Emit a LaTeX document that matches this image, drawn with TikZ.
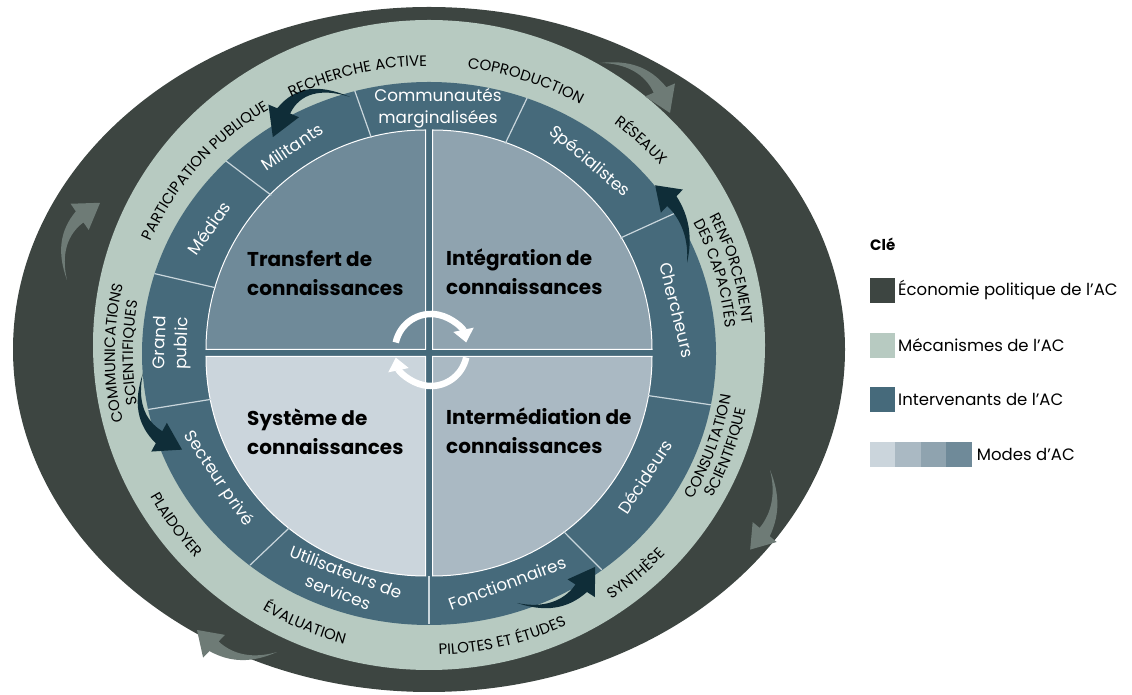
\documentclass[tikz,border=0pt]{standalone}
\usepackage{fontspec}
\setmainfont{Poppins}
\usepackage{tikz}
\usetikzlibrary{arrows.meta, decorations.text, calc, positioning}

\definecolor{ecoDark}{HTML}{3D4541}
\definecolor{mechGreen}{HTML}{B7CAC1}
\definecolor{actorBlue}{HTML}{466A7B}
\definecolor{modeA}{HTML}{CBD5DC}
\definecolor{modeB}{HTML}{AAB9C3}
\definecolor{modeC}{HTML}{8FA3AF}
\definecolor{modeD}{HTML}{6F8A99}
\definecolor{swooshDark}{HTML}{0F2D38}
\definecolor{swooshGray}{HTML}{6E7B76}
\definecolor{dividerLine}{HTML}{C9D6DC}

\tikzset{
  actor/.style={text=white, font=\fontsize{16.8}{22}\selectfont, align=center, inner sep=0pt},
  mode/.style={font=\bfseries\fontsize{20}{29}\selectfont, align=left, anchor=west, inner sep=0pt},
  quadrant/.style={draw=white, line width=1pt},
  divider/.style={draw=dividerLine, line width=1.2pt},
  keybox/.style={minimum width=25pt, minimum height=25pt, inner sep=0pt, outer sep=0pt},
  keytext/.style={font=\fontsize{16.5}{19}\selectfont, anchor=west, inner sep=0pt},
  cycle arrow/.style={draw=white, line width=6.5pt, -{Triangle[width=20pt,length=13pt]}}
}

\newcommand{\mechfont}{\fontsize{15}{17}\selectfont}
% text on an arc round C: start angle, end angle, x radius, y radius, text
\newcommand{\mech}[5]{%
  \path[shift={(C)}, decorate, decoration={text along path, text align=center, text={|\mechfont|#5}}]
    (#1:#3 and #4) arc[start angle=#1, end angle=#2, x radius=#3, y radius=#4];}

% curved arrow: colour, tail, angle, length, side, bulge
\newcommand{\swoosh}[6]{%
  \pgfmathsetmacro{\swB}{#6}
  \pgfmathsetmacro{\swL}{veclen(0.25,0.75*\swB)}
  \pgfmathsetmacro{\swNx}{0.75*\swB/\swL}
  \pgfmathsetmacro{\swNy}{0.25/\swL}
  \fill[#1, shift={(#2)}, rotate=#3, scale=#4, yscale=#5]
    (0,0) .. controls (0.25,\swB+0.025) and (0.5,1.25*\swB+0.05) .. (0.75+0.08*\swNx, 0.75*\swB+0.08*\swNy)
    -- (0.75+0.19*\swNx, 0.75*\swB+0.19*\swNy) -- (1,0)
    -- (0.75-0.19*\swNx, 0.75*\swB-0.19*\swNy)
    -- (0.75-0.08*\swNx, 0.75*\swB-0.08*\swNy)
    .. controls (0.5,1.25*\swB-0.05) and (0.25,\swB-0.025) .. (0,0) -- cycle;}

\begin{document}
\begin{tikzpicture}[x=1pt, y=1pt]
\useasboundingbox (0,0) rectangle (1132,695);
\coordinate (C) at (429,342);
\coordinate (O) at (431,345);

% rings
\fill[ecoDark] (429,345.5) ellipse[x radius=416, y radius=342.5];
\fill[mechGreen] (429,350) ellipse[x radius=336, y radius=325];
\fill[actorBlue] (429,341.5) ellipse[x radius=287, y radius=271.5];

% modes
\filldraw[quadrant, fill=modeD] ($(C)+(-3.5,3.5)$) -- ++(0,219.5) arc[start angle=90, end angle=180, radius=219.5] -- cycle;
\filldraw[quadrant, fill=modeC] ($(C)+(3.5,3.5)$) -- ++(219.5,0) arc[start angle=0, end angle=90, radius=219.5] -- cycle;
\filldraw[quadrant, fill=modeB] ($(C)+(3.5,-3.5)$) -- ++(0,-219.5) arc[start angle=-90, end angle=0, radius=219.5] -- cycle;
\filldraw[quadrant, fill=modeA] ($(C)+(-3.5,-3.5)$) -- ++(-219.5,0) arc[start angle=180, end angle=270, radius=219.5] -- cycle;

\foreach \a in {105,70,31,-11,-53,-90,-128.6,-168,163,135}
  \draw[divider] ([shift={(C)}]\a:223) -- ([shift={(C)}]\a:287 and 271.5);

% arrows
\swoosh{swooshDark}{350,598}{207.5}{87}{-1}{0.28}
\swoosh{swooshDark}{687,432}{112.3}{84}{-1}{0.15}
\swoosh{swooshDark}{143,322}{-63}{86}{-1}{0.23}
\swoosh{swooshDark}{517,92}{24.8}{86}{-1}{0.21}
\swoosh{swooshGray}{600,632}{-35.5}{86}{1}{0.2}
\swoosh{swooshGray}{67,415}{66.8}{84}{1}{0.21}
\swoosh{swooshGray}{277,43}{164.6}{83}{1}{0.18}
\swoosh{swooshGray}{770,225}{256}{82}{1}{0.16}

\draw[cycle arrow] ([shift={(O)}]168:36) arc[start angle=168, end angle=12, radius=36];
\draw[cycle arrow] ([shift={(O)}]-12:36) arc[start angle=-12, end angle=-168, radius=36];

\node[mode] (transfert) at (247,422) {Transfert de\\connaissances};
\node[mode] (integ) at (446,423) {Intégration de\\connaissances};
\node[mode] (systeme) at (247,263) {Système de\\connaissances};
\node[mode] (intermed) at (446,264) {Intermédiation de\\connaissances};

\node[actor] (comm) at (438,587) {Communautés\\marginalisées};
\node[actor, rotate=-40] (spec) at (589,533) {Spécialistes};
\node[actor, rotate=-76] (cherch) at (677,385) {Chercheurs};
\node[actor, rotate=57] (decid) at (645,218) {Décideurs};
\node[actor, rotate=20] (fonct) at (507,112) {Fonctionnaires};
\node[actor, rotate=-21] (utilis) at (342,113) {Utilisateurs de\\services};
\node[actor, rotate=-56] (secteur) at (218,216) {Secteur privé};
\node[actor, rotate=88] (grand) at (172,352) {Grand\\public};
\node[actor, rotate=55] (medias) at (209,467) {Médias};
\node[actor, rotate=34] (milit) at (292,548) {Militants};

% mechanisms
\mech{144}{64}{302}{287}{RECHERCHE ACTIVE}
\mech{111}{31}{302}{287}{COPRODUCTION}
\mech{81}{11}{304}{289}{RÉSEAUX}
\mech{180}{100}{302}{287}{PARTICIPATION PUBLIQUE}
\mech{220}{140}{314}{299}{COMMUNICATIONS}
\mech{220}{140}{296}{281}{SCIENTIFIQUES}
\mech{56}{-24}{315}{300}{RENFORCEMENT}
\mech{56}{-24}{298}{283}{DES CAPACITÉS}
\mech{-59}{21}{305}{290}{CONSULTATION}
\mech{-59}{21}{322}{307}{SCIENTIFIQUE}
\mech{-78}{-18}{317}{302}{SYNTHÈSE}
\mech{-116}{-36}{317}{302}{PILOTES ET ÉTUDES}
\mech{-154}{-74}{317}{302}{ÉVALUATION}
\mech{-185}{-105}{317}{302}{PLAIDOYER}

% key
\node[font=\bfseries\fontsize{15}{17}\selectfont, anchor=west, inner sep=0pt] (key) at (870,451) {Clé};
\node[keybox, fill=ecoDark] (keyEco) at (882.5,404.5) {};
\node[keytext, right=3pt of keyEco] (keyEcoTxt) {Économie politique de l’AC};
\node[keybox, fill=mechGreen] (keyMech) at (882.5,349.5) {};
\node[keytext, right=3pt of keyMech] (keyMechTxt) {Mécanismes de l’AC};
\node[keybox, fill=actorBlue] (keyActor) at (882.5,295.5) {};
\node[keytext, right=3pt of keyActor] (keyActorTxt) {Intervenants de l’AC};
\node[keybox, minimum width=25.5pt, fill=modeA] (keyModeA) at (882.5,240.5) {};
\node[keybox, minimum width=25.5pt, fill=modeB, right=0pt of keyModeA] (keyModeB) {};
\node[keybox, minimum width=25.5pt, fill=modeC, right=0pt of keyModeB] (keyModeC) {};
\node[keybox, minimum width=25.5pt, fill=modeD, right=0pt of keyModeC] (keyModeD) {};
\node[keytext, right=5pt of keyModeD] (keyModeTxt) {Modes d’AC};
\end{tikzpicture}
\end{document}
